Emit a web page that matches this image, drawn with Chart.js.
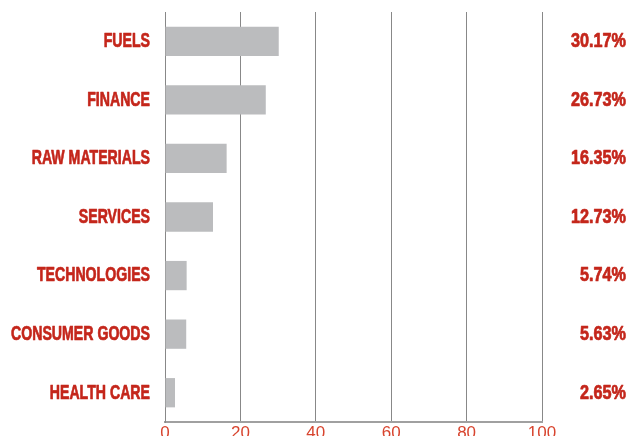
<!DOCTYPE html>
<html><head><meta charset="utf-8">
<script src="https://cdn.jsdelivr.net/npm/chart.js@4"></script>
<style>html,body{margin:0;padding:0;background:#fff;overflow:hidden}#wrap{width:629px;height:436px;position:relative}</style>
</head><body><div id="wrap"><canvas id="c"></canvas></div>
<script>
const categories = ["FUELS","FINANCE","RAW MATERIALS","SERVICES","TECHNOLOGIES","CONSUMER GOODS","HEALTH CARE"];
const values = [30.17,26.73,16.35,12.73,5.74,5.63,2.65];
const valueLabels = ["30.17%","26.73%","16.35%","12.73%","5.74%","5.63%","2.65%"];
const xTicks = [0,20,40,60,80,100];

const RED = '#c4261b';
const LABEL_FONT = 'bold 19.5px "Liberation Sans", Arial, sans-serif';

const textLabels = {
  id:'textLabels',
  afterDraw(chart){
    const ctx = chart.ctx, y = chart.scales.y;
    ctx.save();
    ctx.font = LABEL_FONT;
    ctx.fillStyle = RED;
    ctx.strokeStyle = RED;
    ctx.lineWidth = 0.7;
    ctx.lineJoin = 'round';
    ctx.textBaseline = 'middle';
    ctx.textAlign = 'right';
    // horizontal compression to mimic a condensed face
    const sx = 139 / ctx.measureText('CONSUMER GOODS').width;
    const sv = 55 / ctx.measureText('30.17%').width;
    const rightEdgeLeft = chart.chartArea.left - 15;
    const rightEdgeVals = chart.width - 3;
    const draw = (t, x, py, s) => {
      ctx.save(); ctx.translate(x, py); ctx.scale(s,1);
      ctx.fillText(t,0,0); ctx.strokeText(t,0,0); ctx.restore();
    };
    categories.forEach((t,i)=> draw(t, rightEdgeLeft, y.getPixelForValue(i) + 0.5, sx));
    valueLabels.forEach((t,i)=> draw(t, rightEdgeVals, y.getPixelForValue(i) + 0.5, sv));
    ctx.restore();
  }
};

new Chart(document.getElementById('c'), {
  type:'bar',
  data:{labels:categories, datasets:[{data:values, backgroundColor:'#bbbcbe', categoryPercentage:1, barPercentage:0.5}]},
  options:{
    indexAxis:'y', responsive:true, maintainAspectRatio:false, animation:false,
    layout:{padding:{top:12,right:87,left:0,bottom:0}},
    plugins:{legend:{display:false}, tooltip:{enabled:false}},
    scales:{
      x:{min:0,max:100,
        afterBuildTicks(a){a.ticks = xTicks.map(v=>({value:v}));},
        afterFit(a){a.height = 14;},
        grid:{color:'#888888',lineWidth:1,drawTicks:false},
        border:{color:'#a0a0a0',width:2},
        ticks:{color:'#d8452f',padding:1,font:{family:'"Liberation Sans",Arial,sans-serif',size:17}}
      },
      y:{
        afterFit(a){a.width = 165;},
        grid:{display:false,drawTicks:false},
        border:{color:'#888888',width:1},
        ticks:{display:false}
      }
    }
  },
  plugins:[textLabels]
});
</script></body></html>
